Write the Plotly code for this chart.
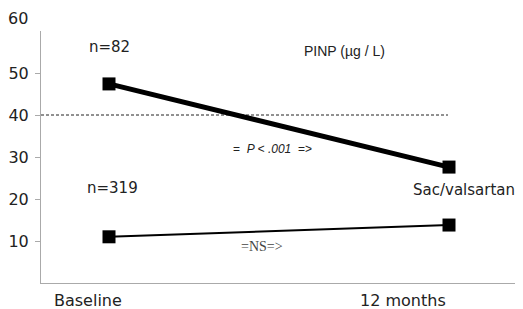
import plotly.graph_objects as go

timepoints = [0, 1]  # Baseline, 12 months
upper_group = [47.4, 27.6]   # n=82
lower_group = [11.0, 13.8]   # n=319
y_ticks = [10, 20, 30, 40, 50]
threshold = 40

fig = go.Figure()
fig.add_trace(go.Scatter(x=[-0.2, 0.997], y=[threshold, threshold], mode="lines",
                         line=dict(color="#222222", width=1, dash="3px,2px"),
                         hoverinfo="skip", showlegend=False))
fig.add_trace(go.Scatter(x=timepoints, y=upper_group, mode="lines+markers",
                         line=dict(color="black", width=5),
                         marker=dict(symbol="square", size=13, color="black"),
                         showlegend=False))
fig.add_trace(go.Scatter(x=timepoints, y=lower_group, mode="lines+markers",
                         line=dict(color="black", width=2),
                         marker=dict(symbol="square", size=13, color="black"),
                         showlegend=False))

font_main = "DejaVu Sans"
ann = [
    dict(x=0.0015, y=56.2, text="n=82", size=15, font=font_main, color="#222"),
    dict(x=0.694, y=55.2, text="PINP (µg / L)", size=14, font="Liberation Sans", color="#222"),
    dict(x=0.48, y=31.9, text="=  <i>P < .001</i>  =>", size=12, font="Liberation Sans", color="#222"),
    dict(x=0.009, y=22.6, text="n=319", size=15, font=font_main, color="#222"),
    dict(x=1.044, y=22.1, text="Sac/valsartan", size=15, font=font_main, color="#222"),
    dict(x=0.45, y=8.6, text="=NS=>", size=14, font="Liberation Serif", color="#444"),
]
annotations = [dict(x=a["x"], y=a["y"], xref="x", yref="y", text=a["text"], showarrow=False,
                    font=dict(family=a["font"], size=a["size"], color=a["color"]),
                    xanchor="center", yanchor="middle") for a in ann]
# category labels below the axis (paper coordinates; plot area 476 x 252 px)
for label, px in [("Baseline", 88), ("12 months", 403)]:
    annotations.append(dict(x=(px - 41) / 476, y=-(300 - 283) / 252, xref="paper", yref="paper",
                            text=label, showarrow=False,
                            font=dict(family=font_main, size=16, color="#222"),
                            xanchor="center", yanchor="middle"))
annotations.append(dict(x=(30 - 41) / 476, y=1 + 12 / 252, xref="paper", yref="paper", text="60",
                        showarrow=False, font=dict(family=font_main, size=16, color="#222"),
                        xanchor="right", yanchor="middle"))

fig.update_layout(
    width=515, height=301,
    margin=dict(l=33, r=6, t=23, b=26, autoexpand=False),
    paper_bgcolor="white", plot_bgcolor="white",
    annotations=annotations,
    xaxis=dict(range=[-0.2, 1.2], showgrid=False, zeroline=False, showticklabels=False,
               showline=True, linecolor="#aaaaaa", linewidth=1, ticks="", automargin=False),
    yaxis=dict(range=[0, 60], showgrid=False, zeroline=False, tickvals=y_ticks,
               ticktext=[str(v) for v in y_ticks], ticks="outside", ticklen=5,
               tickcolor="#aaaaaa", showline=True, linecolor="#aaaaaa", linewidth=1,
               automargin=False, ticklabelstandoff=3,
               tickfont=dict(family=font_main, size=16, color="#222")),
)
fig.write_html("out.html")
